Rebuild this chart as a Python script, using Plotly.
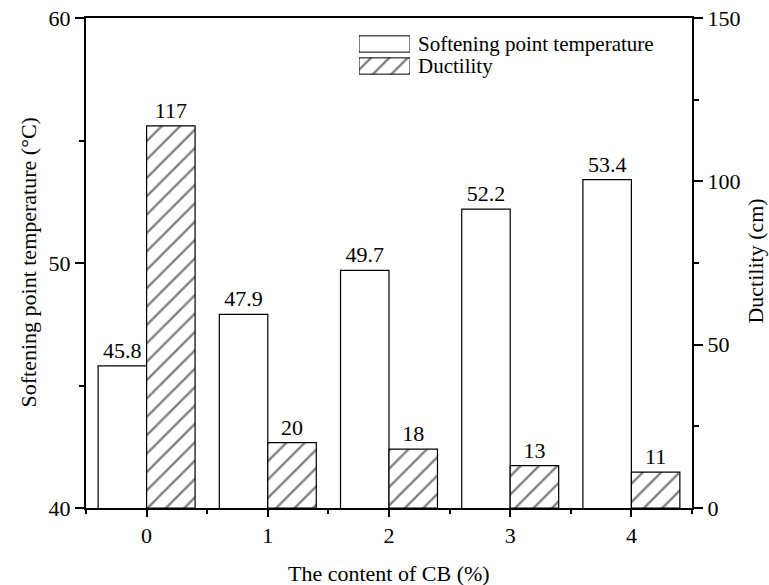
import plotly.graph_objects as go

# CB content (%) and measured properties
cb_content = [0, 1, 2, 3, 4]
softening_point = [45.8, 47.9, 49.7, 52.2, 53.4]   # °C
ductility = [117, 20, 18, 13, 11]                  # cm

legend_labels = ["Softening point temperature", "Ductility"]
legend_len = [1, 1]

FONT = "Liberation Serif, Times New Roman, serif"
HATCH = dict(shape="/", fgcolor="black", bgcolor="white", size=13, solidity=0.18)

fig = go.Figure()

fig.add_trace(go.Bar(
    x=cb_content, y=softening_point, yaxis="y", xaxis="x",
    width=0.4, offset=-0.4,
    marker=dict(color="white", line=dict(color="black", width=1.2)),
    text=[f"{v:.1f}" for v in softening_point], textposition="outside",
    textfont=dict(family=FONT, size=22, color="black"),
    cliponaxis=False, showlegend=False,
))

fig.add_trace(go.Bar(
    x=cb_content, y=ductility, yaxis="y2", xaxis="x",
    width=0.4, offset=0,
    marker=dict(color="white", pattern=HATCH, line=dict(color="black", width=1.2)),
    text=[str(v) for v in ductility], textposition="outside",
    textfont=dict(family=FONT, size=22, color="black"),
    cliponaxis=False, showlegend=False,
))

# legend key drawn as small horizontal bars on an auxiliary axis pair
fig.add_trace(go.Bar(
    x=legend_len[1:], y=[0], orientation="h", xaxis="x2", yaxis="y3",
    width=0.74,
    marker=dict(color="white", pattern=HATCH, line=dict(color="black", width=1)),
    showlegend=False, hoverinfo="skip",
))
fig.add_trace(go.Bar(
    x=legend_len[:1], y=[1], orientation="h", xaxis="x2", yaxis="y3",
    width=0.74,
    marker=dict(color="white", line=dict(color="black", width=1)),
    showlegend=False, hoverinfo="skip",
))

axis_font = dict(family=FONT, size=22, color="black")
legend_font = dict(family=FONT, size=21, color="black")

annotations = [
    # legend labels
    dict(x=0.5462, y=0.9469, xref="paper", yref="paper", text=legend_labels[0],
         showarrow=False, xanchor="left", yanchor="middle", font=legend_font, borderpad=0),
    dict(x=0.5462, y=0.9020, xref="paper", yref="paper", text=legend_labels[1],
         showarrow=False, xanchor="left", yanchor="middle", font=legend_font, borderpad=0),
    # axis titles
    dict(x=0.5, y=-0.1327, xref="paper", yref="paper", text="The content of CB (%)",
         showarrow=False, xanchor="center", yanchor="middle", font=axis_font),
    dict(x=-0.0965, y=0.5, xref="paper", yref="paper", text="Softening point temperature (°C)",
         showarrow=False, xanchor="center", yanchor="middle", textangle=-90, font=axis_font),
    dict(x=1.1056, y=0.505, xref="paper", yref="paper", text="Ductility (cm)",
         showarrow=False, xanchor="center", yanchor="middle", textangle=-90, font=axis_font,
         borderpad=0),
]

fig.update_layout(
    width=769, height=585,
    margin=dict(l=86, r=77, t=18, b=77, autoexpand=False),
    paper_bgcolor="white", plot_bgcolor="white",
    font=axis_font,
    barmode="overlay",
    annotations=annotations,
    xaxis=dict(
        range=[-0.5, 4.5], tickvals=cb_content, ticktext=[str(v) for v in cb_content],
        showline=True, linecolor="black", linewidth=2, mirror=True,
        ticks="outside", ticklen=7, tickwidth=1.5, tickcolor="black",
        minor=dict(tick0=0.5, dtick=1, ticks="outside", ticklen=4, tickwidth=1.5, tickcolor="black"),
        showgrid=False, zeroline=False, automargin=False,
        tickfont=axis_font,
    ),
    yaxis=dict(
        range=[40, 60], dtick=10, tick0=40,
        showline=True, linecolor="black", linewidth=2,
        ticks="outside", ticklen=9, tickwidth=1.5, tickcolor="black",
        minor=dict(dtick=5, ticks="outside", ticklen=5, tickwidth=1.5, tickcolor="black"),
        showgrid=False, zeroline=False, automargin=False,
        tickfont=axis_font,
    ),
    yaxis2=dict(
        range=[0, 150], dtick=50, tick0=0, overlaying="y", side="right",
        showline=True, linecolor="black", linewidth=2,
        ticks="outside", ticklen=9, tickwidth=1.5, tickcolor="black",
        minor=dict(dtick=25, ticks="outside", ticklen=5, tickwidth=1.5, tickcolor="black"),
        showgrid=False, zeroline=False, automargin=False,
        tickfont=axis_font,
    ),
    xaxis2=dict(
        domain=[0.4505, 0.5347], anchor="y3", range=[0, 1],
        visible=False, fixedrange=True,
    ),
    yaxis3=dict(
        domain=[0.8796, 0.9694], anchor="x2", range=[-0.5, 1.5],
        visible=False, fixedrange=True,
    ),
)

fig.write_html("out.html")
